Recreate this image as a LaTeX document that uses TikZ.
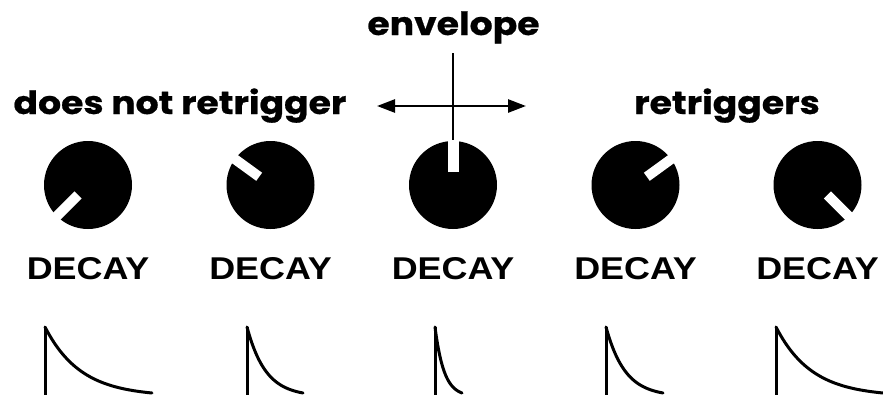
\documentclass[tikz,border=0pt]{standalone}
\usepackage{fontspec}
\setmainfont{Liberation Sans}
\newfontfamily\popfont{Poppins}[BoldFeatures={FakeBold=0.6}]
\usetikzlibrary{arrows.meta,calc}
\begin{document}
\begin{tikzpicture}[x=1pt,y=-1pt,
  knob/.style={circle, fill=black, minimum size=88pt, inner sep=0pt},
  marker/.style={white, line width=10pt, line cap=butt},
  decaylabel/.style={font=\fontsize{31.5}{32}\selectfont\bfseries, anchor=base, xscale=1.14, inner sep=0pt},
  headlabel/.style={font=\popfont\bfseries\fontsize{32}{34}\selectfont, anchor=base, xscale=1.13, inner sep=0pt},
  envline/.style={line width=3pt, line cap=butt},
  axis/.style={line width=2.6pt}]
\useasboundingbox (0,0) rectangle (883,394);
% headings
\node[headlabel] (nr) at (180,114) {does not retrigger};
\node[headlabel] (rt) at (727,114) {retriggers};
\node[headlabel] (ev) at (453.5,35) {envelope};
% knobs
\foreach \i/\cx in {1/88,2/270.5,3/453,4/635.5,5/817.5}{
  \node[knob] (k\i) at (\cx,185) {};
}
% envelope axis
\coordinate (vt) at (453,53);
\coordinate (al) at (377,106);
\coordinate (ar) at (526,106);
\draw[axis] (vt) -- (k3.north);
\draw[axis, {Triangle[length=18pt,width=13pt]}-{Triangle[length=18pt,width=13pt]}] (al) -- (ar);
% knob markers
\foreach \i/\a in {1/135,2/216,4/-36,5/45}{
  \draw[marker] ([shift={(\a:14)}]k\i.center) -- ([shift={(\a:45)}]k\i.center);
}
\draw[marker, line width=11pt] ([shift={(0,-13)}]k3.center) -- ([shift={(0,-45)}]k3.center);
% labels
\foreach \i/\cx in {1/88,2/270.5,3/453,4/635.5,5/817.5}{
  \node[decaylabel] (d\i) at (\cx,279) {DECAY};
}
% envelopes
\foreach \i/\xo/\L in {1/45/107,2/247/56,3/435/27,4/606/57,5/776/107}{
  \coordinate (e\i) at (\xo,327);
  \draw[envline] (\xo,395) -- (e\i);
  \draw[envline, line cap=round] plot[domain=0:1, samples=50] ({\xo+\L*\x},{393-66*(exp(-3*\x)-exp(-3))/(1-exp(-3))});
}
\end{tikzpicture}
\end{document}
